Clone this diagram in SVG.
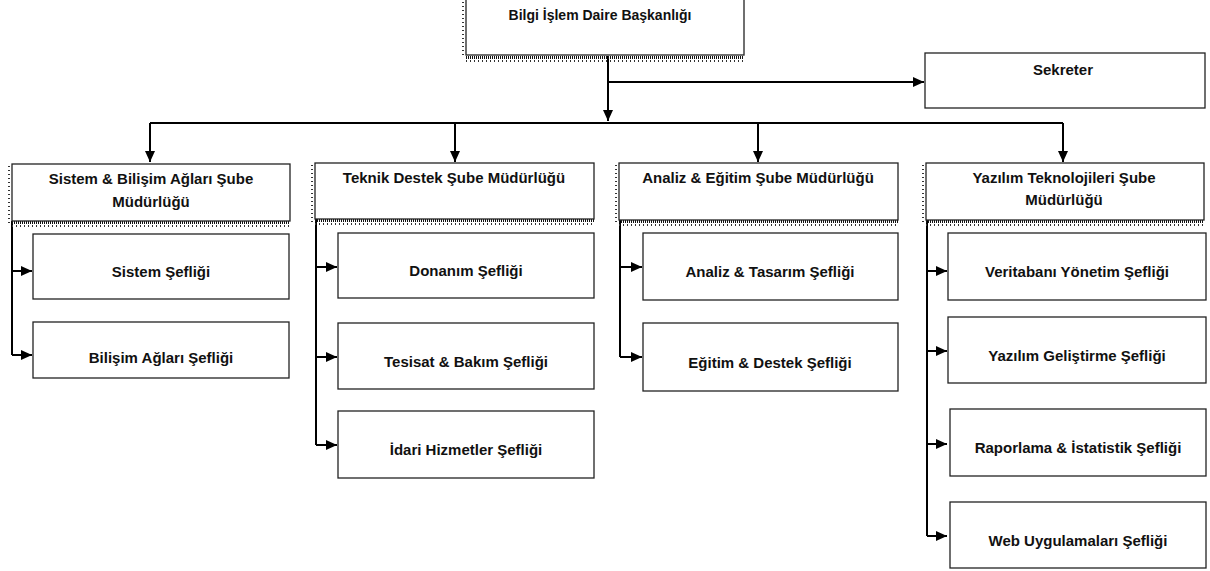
<svg xmlns="http://www.w3.org/2000/svg" width="1210" height="571" viewBox="0 0 1210 571">
<style>
.box{fill:#fff;stroke:#222;stroke-width:1.3}
.t{font-family:"Liberation Sans",Arial,sans-serif;font-weight:bold;font-size:15px;fill:#111;text-anchor:middle}
.top{font-size:14px}
.c{fill:none;stroke:#000;stroke-width:2}
.sh{fill:none;stroke:#111;stroke-width:3;stroke-dasharray:1 1}
.sh2{fill:none;stroke:#333;stroke-width:2;stroke-dasharray:1 3}
</style>
<defs>
<marker id="ar" markerUnits="userSpaceOnUse" markerWidth="11" markerHeight="11" refX="11" refY="5.5" orient="auto">
<path d="M0,0.5 L11,5.5 L0,10.5 z" fill="#000"/>
</marker>
</defs>
<rect width="1210" height="571" fill="#fff"/>

<g id="connectors">
<path class="c" d="M608,56 V121" marker-end="url(#ar)"/>
<path class="c" d="M608,82 H924" marker-end="url(#ar)"/>
<path class="c" d="M150,123 H1063"/>
<path class="c" d="M150,123 V162" marker-end="url(#ar)"/>
<path class="c" d="M455,123 V162" marker-end="url(#ar)"/>
<path class="c" d="M758,123 V162" marker-end="url(#ar)"/>
<path class="c" d="M1063,123 V162" marker-end="url(#ar)"/>
<path class="c" d="M12,221 V355"/>
<path class="c" d="M12,271 H32" marker-end="url(#ar)"/>
<path class="c" d="M12,355 H32" marker-end="url(#ar)"/>
<path class="c" d="M316,219 V445"/>
<path class="c" d="M316,267 H337" marker-end="url(#ar)"/>
<path class="c" d="M316,357 H337" marker-end="url(#ar)"/>
<path class="c" d="M316,445 H337" marker-end="url(#ar)"/>
<path class="c" d="M620,220 V357"/>
<path class="c" d="M620,267 H642" marker-end="url(#ar)"/>
<path class="c" d="M620,357 H642" marker-end="url(#ar)"/>
<path class="c" d="M927,220 V536"/>
<path class="c" d="M927,271 H947" marker-end="url(#ar)"/>
<path class="c" d="M927,351 H947" marker-end="url(#ar)"/>
<path class="c" d="M927,444 H947" marker-end="url(#ar)"/>
<path class="c" d="M927,536 H947" marker-end="url(#ar)"/>
</g>

<g id="daire-baskanligi">
<path class="sh2" d="M463,2 V58"/>
<path class="sh" d="M466,57.5 H744"/>
<path class="sh2" d="M466,61 H744"/>
<rect class="box" x="466" y="-1" width="278" height="56"/>
<text class="t top" x="600" y="20">Bilgi İşlem Daire Başkanlığı</text>
</g>

<g id="sekreter">
<rect class="box" x="925" y="53" width="280" height="55"/>
<text class="t" x="1063" y="75">Sekreter</text>
</g>

<g id="sube-sistem">
<path class="sh2" d="M9,166 V224"/>
<path class="sh" d="M12,222.5 H290"/>
<path class="sh2" d="M12,226 H290"/>
<rect class="box" x="12" y="164" width="278" height="57"/>
<text class="t" x="151" y="184">Sistem &amp; Bilişim Ağları Şube</text>
<text class="t" x="151" y="207">Müdürlüğü</text>
</g>

<g id="sube-teknik">
<path class="sh2" d="M312,165 V222"/>
<path class="sh" d="M315,220.5 H594"/>
<path class="sh2" d="M315,224 H594"/>
<rect class="box" x="315" y="163" width="279" height="56"/>
<text class="t" x="454" y="183">Teknik Destek Şube Müdürlüğü</text>
</g>

<g id="sube-analiz">
<path class="sh2" d="M616,165 V223"/>
<path class="sh" d="M619,221.5 H898"/>
<path class="sh2" d="M619,225 H898"/>
<rect class="box" x="619" y="163" width="279" height="57"/>
<text class="t" x="758" y="183">Analiz &amp; Eğitim Şube Müdürlüğü</text>
</g>

<g id="sube-yazilim">
<path class="sh2" d="M923,165 V223"/>
<path class="sh" d="M926,221.5 H1204"/>
<path class="sh2" d="M926,225 H1204"/>
<rect class="box" x="926" y="163" width="278" height="57"/>
<text class="t" x="1064" y="183">Yazılım Teknolojileri Şube</text>
<text class="t" x="1064" y="205">Müdürlüğü</text>
</g>

<g id="sistem-sefligi">
<rect class="box" x="33" y="234" width="256" height="65"/>
<text class="t" x="161" y="277">Sistem Şefliği</text>
</g>
<g id="bilisim-aglari-sefligi">
<rect class="box" x="33" y="322" width="256" height="56"/>
<text class="t" x="161" y="363">Bilişim Ağları Şefliği</text>
</g>

<g id="donanim-sefligi">
<rect class="box" x="338" y="233" width="256" height="65"/>
<text class="t" x="466" y="276">Donanım Şefliği</text>
</g>
<g id="tesisat-bakim-sefligi">
<rect class="box" x="338" y="323" width="256" height="66"/>
<text class="t" x="466" y="367">Tesisat &amp; Bakım Şefliği</text>
</g>
<g id="idari-hizmetler-sefligi">
<rect class="box" x="338" y="411" width="256" height="67"/>
<text class="t" x="466" y="455">İdari Hizmetler Şefliği</text>
</g>

<g id="analiz-tasarim-sefligi">
<rect class="box" x="643" y="233" width="255" height="67"/>
<text class="t" x="770" y="277">Analiz &amp; Tasarım Şefliği</text>
</g>
<g id="egitim-destek-sefligi">
<rect class="box" x="643" y="323" width="255" height="68"/>
<text class="t" x="770" y="368">Eğitim &amp; Destek Şefliği</text>
</g>

<g id="veritabani-yonetim-sefligi">
<rect class="box" x="948" y="233" width="258" height="67"/>
<text class="t" x="1077" y="277">Veritabanı Yönetim Şefliği</text>
</g>
<g id="yazilim-gelistirme-sefligi">
<rect class="box" x="948" y="317" width="258" height="66"/>
<text class="t" x="1077" y="361">Yazılım Geliştirme Şefliği</text>
</g>
<g id="raporlama-istatistik-sefligi">
<rect class="box" x="950" y="409" width="256" height="67"/>
<text class="t" x="1078" y="453">Raporlama &amp; İstatistik Şefliği</text>
</g>
<g id="web-uygulamalari-sefligi">
<rect class="box" x="950" y="502" width="256" height="66"/>
<text class="t" x="1078" y="546">Web Uygulamaları Şefliği</text>
</g>
</svg>
